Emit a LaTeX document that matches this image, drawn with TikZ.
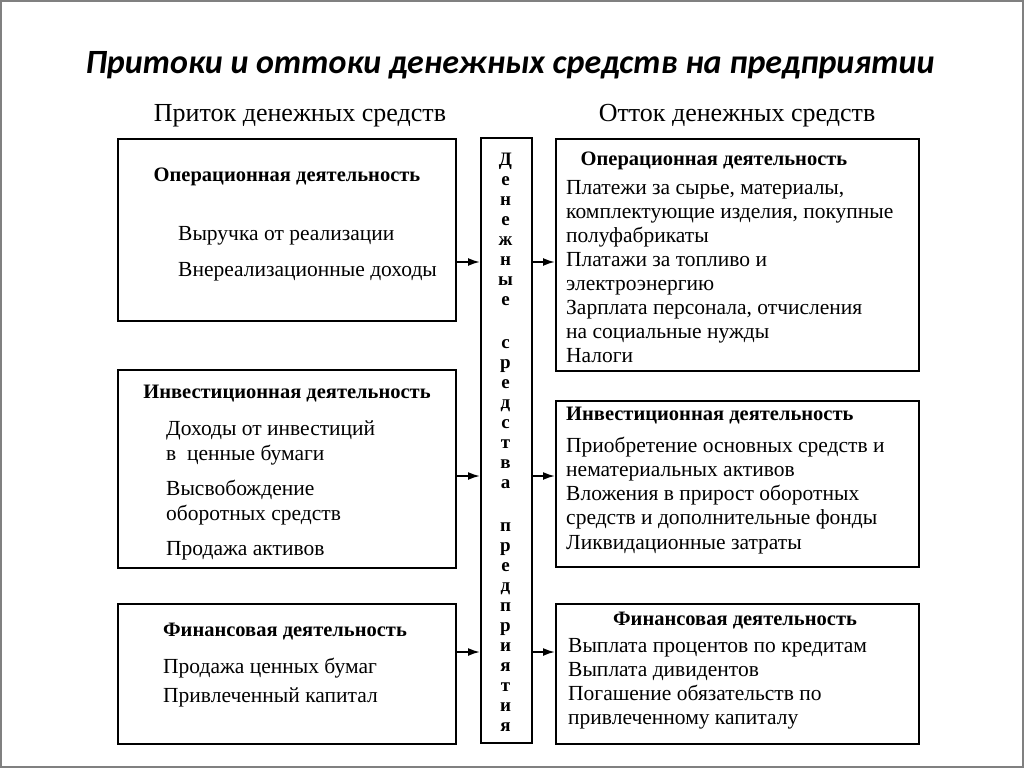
\documentclass[tikz,border=0pt]{standalone}
\usepackage{fontspec}
\setmainfont{Liberation Serif}
\newfontfamily\titlefont{Carlito}
\usetikzlibrary{arrows.meta}

\tikzset{
    box/.style={draw, line width=1.9pt, inner sep=0pt, anchor=north west},
    head/.style={font=\fontsize{20.5}{22}\selectfont\bfseries, inner sep=0pt, anchor=base},
    items/.style={font=\fontsize{21.5}{24}\selectfont, inner sep=0pt, anchor=base west},
    letter/.style={font=\fontsize{19}{20}\selectfont\bfseries, inner sep=0pt, anchor=base},
    flow/.style={-{Latex[length=12pt,width=8pt]}, line width=1.9pt}
}

\begin{document}
\begin{tikzpicture}[x=1pt,y=-1pt]
    \useasboundingbox (0,0) rectangle (1024,768);
    \draw[gray, line width=2pt] (1,1) rectangle (1023,767);

    \node[font=\titlefont\bfseries\itshape\fontsize{34}{40}\selectfont, anchor=base] (title) at (510,73) {Притоки и оттоки денежных средств на предприятии};
    \node[font=\fontsize{26}{30}\selectfont, anchor=base] (inhead) at (300,121) {Приток денежных средств};
    \node[font=\fontsize{26}{30}\selectfont, anchor=base] (outhead) at (737,121) {Отток денежных средств};

    \node[box, minimum width=338pt, minimum height=182pt] (opin) at (117,138) {};
    \node[box, minimum width=338pt, minimum height=198pt] (invin) at (117,369) {};
    \node[box, minimum width=338pt, minimum height=140pt] (finin) at (117,603) {};
    \node[box, minimum width=51pt, minimum height=605pt] (cash) at (480,137) {};
    \node[box, minimum width=363pt, minimum height=232pt] (opout) at (555,138) {};
    \node[box, minimum width=363pt, minimum height=166pt] (invout) at (555,400) {};
    \node[box, minimum width=363pt, minimum height=140pt] (finout) at (555,603) {};

    \foreach \l [count=\i from 0] in {Д,е,н,е,ж,н,ы,е}
        \node[letter] (w1-\i) at (505.5,{165+20*\i}) {\l};
    \foreach \l [count=\i from 0] in {с,р,е,д,с,т,в,а}
        \node[letter] (w2-\i) at (505.5,{348+20*\i}) {\l};
    \foreach \l [count=\i from 0] in {п,р,е,д,п,р,и,я,т,и,я}
        \node[letter] (w3-\i) at (505.5,{531+20*\i}) {\l};

    \node[head] (opinh) at (287,181) {Операционная деятельность};
    \node[items] (opin1) at (178,240) {Выручка от реализации};
    \node[items] (opin2) at (178,276) {Внереализационные доходы};

    \node[head] (invinh) at (287,398) {Инвестиционная деятельность};
    \node[items] (invin1) at (166,435) {Доходы от инвестиций};
    \node[items] (invin2) at (166,460) {в\ \ ценные бумаги};
    \node[items] (invin3) at (166,495) {Высвобождение};
    \node[items] (invin4) at (166,520) {оборотных средств};
    \node[items] (invin5) at (166,555) {Продажа активов};

    \node[head] (fininh) at (285,636) {Финансовая деятельность};
    \node[items] (finin1) at (163,673) {Продажа ценных бумаг};
    \node[items] (finin2) at (163,702) {Привлеченный капитал};

    \node[head] (opouth) at (714,165) {Операционная деятельность};
    \foreach \t [count=\i from 0] in {{Платежи за сырье, материалы,},{комплектующие изделия, покупные},
        полуфабрикаты,Платажи за топливо и,электроэнергию,{Зарплата персонала, отчисления},
        на социальные нужды,Налоги}
        \node[items] (opout-\i) at (566,{194+24*\i}) {\t};

    \node[head, anchor=base west] (invouth) at (566,420) {Инвестиционная деятельность};
    \foreach \t [count=\i from 0] in {Приобретение основных средств и,нематериальных активов,
        Вложения в прирост оборотных,средств и дополнительные фонды,Ликвидационные затраты}
        \node[items] (invout-\i) at (566,{452+24.3*\i}) {\t};

    \node[head] (finouth) at (735,625) {Финансовая деятельность};
    \foreach \t [count=\i from 0] in {Выплата процентов по кредитам,Выплата дивидентов,
        Погашение обязательств по,привлеченному капиталу}
        \node[items] (finout-\i) at (568,{652+24*\i}) {\t};

    \coordinate (a1) at (0,262);
    \coordinate (a2) at (0,476);
    \coordinate (a3) at (0,652);
    \foreach \src/\dst/\lev in {opin/opout/a1, invin/invout/a2, finin/finout/a3}
    {
        \draw[flow] (\src.east |- \lev) -- (cash.west |- \lev);
        \draw[flow] (cash.east |- \lev) -- (\dst.west |- \lev);
    }
\end{tikzpicture}
\end{document}
